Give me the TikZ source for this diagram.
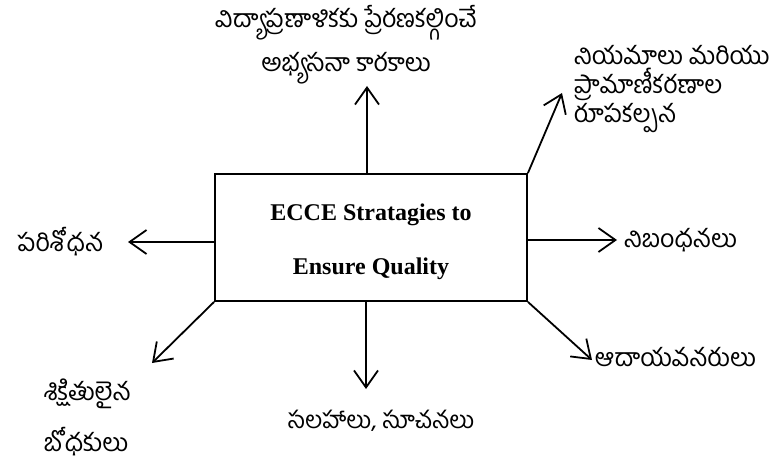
\documentclass[tikz,border=0pt]{standalone}
\usepackage{fontspec}
\setmainfont{Liberation Serif}
\newfontfamily\telugu[Script=Telugu]{Hind Guntur}
\usetikzlibrary{arrows.meta}

\begin{document}
\begin{tikzpicture}[x=1pt,y=-1pt,line width=1.8pt,
    >={Straight Barb[length=17pt,width=24pt]}]

      \useasboundingbox (0,0) rectangle (775,462);

      \node[draw, minimum width=312pt, minimum height=127pt, inner sep=0pt]
            (core) at (371,237.5) {};
      \node[align=center, inner sep=0pt, font=\bfseries\fontsize{24}{54}\selectfont]
            (title) at (371,242) {ECCE Stratagies to\\Ensure Quality};

      \coordinate (up)    at (367,86);
      \coordinate (upr)   at (562,93);
      \coordinate (lft)   at (128,242);
      \coordinate (rgt)   at (617,240);
      \coordinate (dnl)   at (152,363);
      \coordinate (dn)    at (366,389);
      \coordinate (dnr)   at (592,360);

      \begin{scope}[every node/.style={inner sep=0pt, font=\telugu\fontsize{25}{44}\selectfont}]
        \node[align=center] (tlbl)  at (346,45)  {విద్యాప్రణాళికకు ప్రేరణకల్గించే\\అభ్యసనా కారకాలు};
        \node[align=left, anchor=west, font=\telugu\fontsize{25}{29}\selectfont]
              (trlbl) at (573,89) {నియమాలు మరియు\\ప్రామాణీకరణాల\\రూపకల్పన};
        \node[anchor=east] (llbl)  at (104,242) {పరిశోధన};
        \node[anchor=west] (rlbl)  at (623,240) {నిబంధనలు};
        \node[align=left, anchor=south west, text depth=0pt, font=\telugu\fontsize{25}{51}\selectfont]
              (bllbl) at (43,452) {శిక్షితులైన\\బోధకులు};
        \node[font=\telugu\fontsize{24}{44}\selectfont] (blbl)  at (381,421) {సలహాలు, సూచనలు};
        \node[anchor=west] (brlbl) at (594,357) {ఆదాయవనరులు};
      \end{scope}

      \begin{scope}[every edge/.style={draw,->}]
        \path (core.north -| up)  edge (up);
        \path (core.north east)   edge (upr);
        \path (core.west |- lft)  edge (lft);
        \path (core.east |- rgt)  edge (rgt);
        \path (core.south west)   edge (dnl);
        \path (core.south -| dn)  edge (dn);
        \path (core.south east)   edge (dnr);
      \end{scope}

    \end{tikzpicture}
\end{document}
